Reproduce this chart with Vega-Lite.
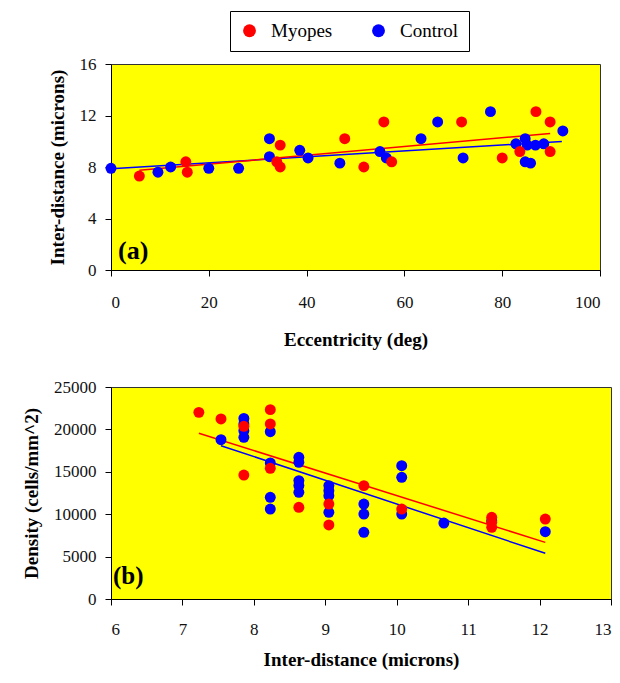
{
  "$schema": "https://vega.github.io/schema/vega-lite/v6.json",
  "background": "white",
  "padding": {"left": 22, "top": 10, "right": 8, "bottom": 4},
  "spacing": 27,
  "config": {
    "font": "Liberation Serif",
    "view": {"fill": "#ffff00", "stroke": "#333333", "strokeWidth": 1},
    "axis": {"grid": false, "domainColor": "#000000", "tickColor": "#000000", "labelColor": "#111111", "titleColor": "#000000", "labelFontSize": 17, "titleFontSize": 19, "titleFontWeight": "bold", "labelFont": "Liberation Serif", "titleFont": "Liberation Serif", "tickSize": 6},
    "axisX": {"labelPadding": 16},
    "axisY": {"labelPadding": 9},
    "legend": {"labelFont": "Liberation Serif", "labelFontSize": 19, "labelColor": "#000000"},
    "text": {"font": "Liberation Serif"}
  },
  "datasets": {
    "ptsA": [
      {"group": "Control", "ecc": 0, "dist": 7.9},
      {"group": "Control", "ecc": 9.6, "dist": 7.6},
      {"group": "Control", "ecc": 12.2, "dist": 8.0},
      {"group": "Control", "ecc": 20, "dist": 7.9},
      {"group": "Control", "ecc": 26.1, "dist": 7.9},
      {"group": "Control", "ecc": 32.4, "dist": 10.2},
      {"group": "Control", "ecc": 32.4, "dist": 8.8},
      {"group": "Control", "ecc": 38.6, "dist": 9.3},
      {"group": "Control", "ecc": 40.3, "dist": 8.7},
      {"group": "Control", "ecc": 46.8, "dist": 8.3},
      {"group": "Control", "ecc": 55.0, "dist": 9.2},
      {"group": "Control", "ecc": 56.3, "dist": 8.7},
      {"group": "Control", "ecc": 63.4, "dist": 10.2},
      {"group": "Control", "ecc": 66.8, "dist": 11.5},
      {"group": "Control", "ecc": 72.0, "dist": 8.7},
      {"group": "Control", "ecc": 77.6, "dist": 12.3},
      {"group": "Control", "ecc": 82.8, "dist": 9.8},
      {"group": "Control", "ecc": 84.7, "dist": 10.2},
      {"group": "Control", "ecc": 84.7, "dist": 8.4},
      {"group": "Control", "ecc": 85.8, "dist": 8.3},
      {"group": "Control", "ecc": 85.1, "dist": 9.7},
      {"group": "Control", "ecc": 86.8, "dist": 9.7},
      {"group": "Control", "ecc": 88.5, "dist": 9.8},
      {"group": "Control", "ecc": 92.4, "dist": 10.8},
      {"group": "Myopes", "ecc": 5.8, "dist": 7.3},
      {"group": "Myopes", "ecc": 15.3, "dist": 8.4},
      {"group": "Myopes", "ecc": 15.6, "dist": 7.6},
      {"group": "Myopes", "ecc": 34.6, "dist": 9.7},
      {"group": "Myopes", "ecc": 33.9, "dist": 8.4},
      {"group": "Myopes", "ecc": 34.6, "dist": 8.0},
      {"group": "Myopes", "ecc": 47.8, "dist": 10.2},
      {"group": "Myopes", "ecc": 51.7, "dist": 8.0},
      {"group": "Myopes", "ecc": 55.8, "dist": 11.5},
      {"group": "Myopes", "ecc": 57.4, "dist": 8.4},
      {"group": "Myopes", "ecc": 71.7, "dist": 11.5},
      {"group": "Myopes", "ecc": 80.0, "dist": 8.7},
      {"group": "Myopes", "ecc": 83.6, "dist": 9.2},
      {"group": "Myopes", "ecc": 86.9, "dist": 12.3},
      {"group": "Myopes", "ecc": 89.8, "dist": 11.5},
      {"group": "Myopes", "ecc": 89.8, "dist": 9.2}
    ],
    "trendA": [
      {"group": "Myopes", "ecc": 5.8, "dist": 7.74},
      {"group": "Myopes", "ecc": 89.8, "dist": 10.6},
      {"group": "Control", "ecc": 0, "dist": 7.87},
      {"group": "Control", "ecc": 92.2, "dist": 9.99}
    ],
    "ptsB": [
      {"group": "Control", "dist": 7.54, "density": 18790},
      {"group": "Control", "dist": 7.86, "density": 21300},
      {"group": "Control", "dist": 7.86, "density": 20640},
      {"group": "Control", "dist": 7.86, "density": 19850},
      {"group": "Control", "dist": 7.86, "density": 19070},
      {"group": "Control", "dist": 8.23, "density": 19730},
      {"group": "Control", "dist": 8.23, "density": 16040},
      {"group": "Control", "dist": 8.23, "density": 11990},
      {"group": "Control", "dist": 8.23, "density": 10610},
      {"group": "Control", "dist": 8.63, "density": 16710},
      {"group": "Control", "dist": 8.63, "density": 16120},
      {"group": "Control", "dist": 8.63, "density": 13960},
      {"group": "Control", "dist": 8.63, "density": 13370},
      {"group": "Control", "dist": 8.63, "density": 12580},
      {"group": "Control", "dist": 9.05, "density": 13370},
      {"group": "Control", "dist": 9.05, "density": 12780},
      {"group": "Control", "dist": 9.05, "density": 12190},
      {"group": "Control", "dist": 9.05, "density": 10220},
      {"group": "Control", "dist": 9.54, "density": 11200},
      {"group": "Control", "dist": 9.54, "density": 10020},
      {"group": "Control", "dist": 9.54, "density": 7860},
      {"group": "Control", "dist": 10.07, "density": 15720},
      {"group": "Control", "dist": 10.07, "density": 14350},
      {"group": "Control", "dist": 10.07, "density": 10020},
      {"group": "Control", "dist": 10.66, "density": 8960},
      {"group": "Control", "dist": 11.33, "density": 9240},
      {"group": "Control", "dist": 12.08, "density": 7940},
      {"group": "Myopes", "dist": 7.23, "density": 22010},
      {"group": "Myopes", "dist": 7.54, "density": 21230},
      {"group": "Myopes", "dist": 7.86, "density": 20360},
      {"group": "Myopes", "dist": 7.86, "density": 14620},
      {"group": "Myopes", "dist": 8.23, "density": 22330},
      {"group": "Myopes", "dist": 8.23, "density": 20640},
      {"group": "Myopes", "dist": 8.23, "density": 15410},
      {"group": "Myopes", "dist": 8.63, "density": 10810},
      {"group": "Myopes", "dist": 9.05, "density": 11200},
      {"group": "Myopes", "dist": 9.05, "density": 8730},
      {"group": "Myopes", "dist": 9.54, "density": 13370},
      {"group": "Myopes", "dist": 10.07, "density": 10610},
      {"group": "Myopes", "dist": 11.33, "density": 9630},
      {"group": "Myopes", "dist": 11.33, "density": 9040},
      {"group": "Myopes", "dist": 11.33, "density": 8450},
      {"group": "Myopes", "dist": 12.08, "density": 9430}
    ],
    "trendB": [
      {"group": "Myopes", "dist": 7.23, "density": 19540},
      {"group": "Myopes", "dist": 12.08, "density": 6680},
      {"group": "Control", "dist": 7.54, "density": 18080},
      {"group": "Control", "dist": 12.08, "density": 5390}
    ],
    "one": [{}]
  },
  "vconcat": [
    {
      "width": 489,
      "height": 206,
      "layer": [
        {
          "data": {"name": "trendA"},
          "transform": [{"filter": "datum.group === 'Control'"}],
          "mark": {"type": "line", "strokeWidth": 1.5, "color": "#0000ff"},
          "encoding": {
            "x": {"field": "ecc", "type": "quantitative"},
            "y": {"field": "dist", "type": "quantitative"}
          }
        },
        {
          "data": {"name": "trendA"},
          "transform": [{"filter": "datum.group === 'Myopes'"}],
          "mark": {"type": "line", "strokeWidth": 1.5, "color": "#ff0000"},
          "encoding": {
            "x": {"field": "ecc", "type": "quantitative"},
            "y": {"field": "dist", "type": "quantitative"}
          }
        },
        {
          "data": {"name": "ptsA"},
          "mark": {"type": "circle", "size": 120, "opacity": 1},
          "encoding": {
            "x": {"field": "ecc", "type": "quantitative", "title": "Eccentricity (deg)", "scale": {"domain": [0, 100], "nice": false}, "axis": {"values": [0, 20, 40, 60, 80, 100], "labelPadding": 18, "titlePadding": 20}},
            "y": {"field": "dist", "type": "quantitative", "title": "Inter-distance (microns)", "scale": {"domain": [0, 16], "nice": false}, "axis": {"values": [0, 4, 8, 12, 16], "titlePadding": 12}},
            "color": {"field": "group", "type": "nominal", "scale": {"domain": ["Myopes", "Control"], "range": ["#ff0000", "#0000ff"]},
              "legend": {"title": null, "orient": "none", "legendX": 119, "legendY": -53, "direction": "horizontal", "symbolType": "circle", "symbolSize": 165, "symbolOpacity": 1, "strokeColor": "#000000", "padding": 10, "columnPadding": 36, "labelOffset": 12, "labelFontSize": 19, "symbolStrokeWidth": 0}}
          }
        },
        {
          "data": {"name": "one"},
          "mark": {"type": "text", "text": "(a)", "fontSize": 26, "fontWeight": "bold", "align": "left", "baseline": "alphabetic", "dx": 7, "dy": -11, "color": "#000000"},
          "encoding": {"x": {"datum": 0, "type": "quantitative"}, "y": {"datum": 0, "type": "quantitative"}}
        }
      ]
    },
    {
      "width": 500,
      "height": 212,
      "layer": [
        {
          "data": {"name": "trendB"},
          "transform": [{"filter": "datum.group === 'Control'"}],
          "mark": {"type": "line", "strokeWidth": 1.5, "color": "#0000ff"},
          "encoding": {
            "x": {"field": "dist", "type": "quantitative"},
            "y": {"field": "density", "type": "quantitative"}
          }
        },
        {
          "data": {"name": "trendB"},
          "transform": [{"filter": "datum.group === 'Myopes'"}],
          "mark": {"type": "line", "strokeWidth": 1.5, "color": "#ff0000"},
          "encoding": {
            "x": {"field": "dist", "type": "quantitative"},
            "y": {"field": "density", "type": "quantitative"}
          }
        },
        {
          "data": {"name": "ptsB"},
          "mark": {"type": "circle", "size": 120, "opacity": 1},
          "encoding": {
            "x": {"field": "dist", "type": "quantitative", "title": "Inter-distance (microns)", "scale": {"domain": [6, 13], "nice": false}, "axis": {"values": [6, 7, 8, 9, 10, 11, 12, 13], "format": "d", "titlePadding": 13}},
            "y": {"field": "density", "type": "quantitative", "title": "Density (cells/mm^2)", "scale": {"domain": [0, 25000], "nice": false}, "axis": {"values": [0, 5000, 10000, 15000, 20000, 25000], "format": "d", "titlePadding": 12}},
            "color": {"field": "group", "type": "nominal", "scale": {"domain": ["Myopes", "Control"], "range": ["#ff0000", "#0000ff"]}}
          }
        },
        {
          "data": {"name": "one"},
          "mark": {"type": "text", "text": "(b)", "fontSize": 25, "fontWeight": "bold", "align": "left", "baseline": "alphabetic", "dx": 2, "dy": -15, "color": "#000000"},
          "encoding": {"x": {"datum": 6, "type": "quantitative"}, "y": {"datum": 0, "type": "quantitative"}}
        }
      ]
    }
  ]
}
